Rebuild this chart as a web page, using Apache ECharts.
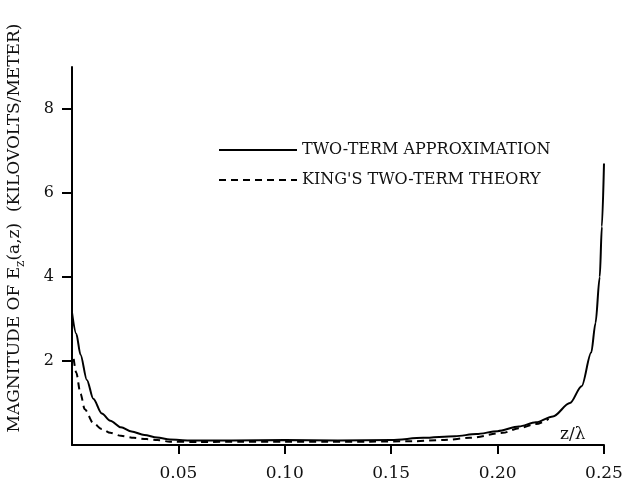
<!DOCTYPE html>
<html>
<head>
<meta charset="utf-8">
<script src="https://cdn.jsdelivr.net/npm/echarts@6/dist/echarts.min.js"></script>
<style>
  html, body { margin: 0; padding: 0; background: #fff; }
  #chart { width: 622px; height: 480px; }
</style>
</head>
<body>
<div id="chart"></div>
<script>
// z/lambda positions and |Ez| values (kV/m)
const zTwoTerm = [0, 0.002, 0.004, 0.007, 0.010, 0.014, 0.018, 0.023, 0.028, 0.034, 0.040, 0.046,
  0.055, 0.075, 0.100, 0.125, 0.150, 0.165, 0.180, 0.190, 0.200, 0.210, 0.218, 0.226, 0.234,
  0.2395, 0.244, 0.246, 0.248, 0.249, 0.250]
const eTwoTerm = [3.15, 2.65, 2.15, 1.55, 1.10, 0.75, 0.58, 0.42, 0.32, 0.24, 0.18, 0.13,
  0.11, 0.11, 0.12, 0.11, 0.12, 0.17, 0.21, 0.26, 0.33, 0.44, 0.54, 0.68, 1.0,
  1.4, 2.2, 2.9, 4.0, 5.2, 6.7]

const zKing = [0.0008, 0.002, 0.004, 0.006, 0.010, 0.014, 0.018, 0.023, 0.029, 0.035, 0.040, 0.046,
  0.060, 0.080, 0.100, 0.120, 0.140, 0.160, 0.175, 0.187, 0.2025, 0.210, 0.218, 0.224]
const eKing = [2.05, 1.72, 1.22, 0.85, 0.52, 0.38, 0.29, 0.22, 0.17, 0.14, 0.12, 0.08,
  0.07, 0.08, 0.08, 0.08, 0.08, 0.09, 0.12, 0.17, 0.29, 0.40, 0.50, 0.62]

const xTicks = [0.05, 0.10, 0.15, 0.20, 0.25]
const yTicks = [2, 4, 6, 8]

const seriesNames = ['TWO-TERM APPROXIMATION', "KING'S TWO-TERM THEORY"]

const FONT = 'DejaVu Serif'
const chart = echarts.init(document.getElementById('chart'))

function pairs(xs, ys) {
  return xs.map((x, i) => [x, ys[i]])
}

chart.setOption({
  backgroundColor: '#fff',
  animation: false,
  grid: { left: 72, right: 18, top: 67, bottom: 35, outerBoundsMode: 'none', containLabel: false },
  legend: {
    orient: 'vertical',
    left: 213,
    top: 137,
    itemWidth: 78,
    itemHeight: 16,
    itemGap: 14,
    data: seriesNames,
    itemStyle: { opacity: 0, borderWidth: 0 },
    textStyle: { fontFamily: FONT, fontSize: 16, color: '#111', lineHeight: 16 },
  },
  xAxis: {
    type: 'value',
    min: 0,
    max: 0.25,
    name: 'z/λ',
    nameLocation: 'end',
    nameGap: -44,
    nameTextStyle: {
      fontFamily: FONT, fontSize: 17, color: '#111',
      align: 'left', verticalAlign: 'bottom', padding: [0, 0, 2, 0],
    },
    splitLine: { show: false },
    axisLine: { lineStyle: { color: '#000', width: 2 } },
    axisTick: {
      customValues: xTicks, inside: false, length: 9,
      lineStyle: { color: '#000', width: 2 },
    },
    axisLabel: {
      customValues: xTicks, margin: 20,
      fontFamily: FONT, fontSize: 17, color: '#111',
      formatter: (v) => v.toFixed(2),
    },
  },
  yAxis: {
    type: 'value',
    min: 0,
    max: 9,
    name: '{t|MAGNITUDE OF E}{sub|z}{t|(a,z)  (KILOVOLTS/METER)}',
    nameLocation: 'middle',
    nameGap: 45,
    nameTextStyle: {
      padding: [0, 0, 0, 56],
      rich: {
        t: { fontFamily: FONT, fontSize: 17, color: '#111', lineHeight: 24, verticalAlign: 'middle' },
        sub: { fontFamily: FONT, fontSize: 12, color: '#111', lineHeight: 24, verticalAlign: 'bottom' },
      },
    },
    splitLine: { show: false },
    axisLine: { show: true, lineStyle: { color: '#000', width: 2 } },
    axisTick: {
      show: true, customValues: yTicks, length: 10,
      lineStyle: { color: '#000', width: 2 },
    },
    axisLabel: {
      customValues: yTicks, margin: 18,
      fontFamily: FONT, fontSize: 16, color: '#111',
    },
  },
  series: [
    {
      name: seriesNames[0],
      type: 'line',
      data: pairs(zTwoTerm, eTwoTerm),
      symbol: 'none',
      smooth: 0.3,
      smoothMonotone: 'x',
      color: '#000',
      lineStyle: { color: '#000', width: 2 },
    },
    {
      name: seriesNames[1],
      type: 'line',
      data: pairs(zKing, eKing),
      symbol: 'none',
      smooth: 0.3,
      smoothMonotone: 'x',
      color: '#000',
      lineStyle: { color: '#000', width: 2, type: [7, 5] },
    },
  ],
})
</script>
</body>
</html>
